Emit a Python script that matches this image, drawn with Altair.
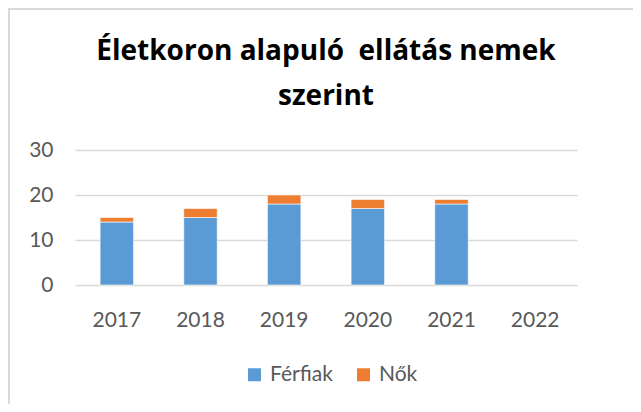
import altair as alt
import pandas as pd

years = ["2017", "2018", "2019", "2020", "2021", "2022"]
ferfiak = [14, 15, 18, 17, 18, None]
nok = [1, 2, 2, 2, 1, None]
series = ["Férfiak", "Nők"]
colors = ["#5B9BD5", "#ED7D31"]

rows = []
for y, f, n in zip(years, ferfiak, nok):
    if f is not None:
        rows.append({"year": y, "series": series[0], "value": f, "ord": 0})
    if n is not None:
        rows.append({"year": y, "series": series[1], "value": n, "ord": 1})
df = pd.DataFrame(rows)

FONT = "Lato"

bars = alt.Chart(df).mark_bar(stroke="white", strokeWidth=0.6).encode(
    x=alt.X("year:N", scale=alt.Scale(domain=years, paddingInner=0.6, paddingOuter=0.3),
            axis=alt.Axis(title=None, labelAngle=0, domain=False, ticks=False,
                          labelPadding=24, labelFontSize=21, labelColor="#595959",
                          labelFont=FONT, grid=False)),
    y=alt.Y("value:Q", stack="zero", scale=alt.Scale(domain=[0, 30], nice=False),
            axis=alt.Axis(title=None, values=[0, 10, 20, 30], domain=False, ticks=False,
                          labelPadding=22, labelFontSize=21, labelColor="#595959",
                          labelFont=FONT, gridColor="#D9D9D9", gridWidth=1.5)),
    color=alt.Color("series:N", scale=alt.Scale(domain=series, range=colors),
                    legend=alt.Legend(title=None, orient="none", legendX=169, legendY=214,
                                      direction="horizontal",
                                      symbolType="square", symbolSize=169, symbolStrokeWidth=0,
                                      labelFontSize=21, labelColor="#595959", labelFont=FONT,
                                      labelOffset=5, columnPadding=20, padding=0)),
    order=alt.Order("ord:Q"),
)

border = alt.Chart(pd.DataFrame({"a": [0]})).mark_rect(
    fill=None, stroke="#D9D9D9", strokeWidth=2
).encode(
    x=alt.value(-66), x2=alt.value(600), y=alt.value(-141), y2=alt.value(300)
)

chart = alt.layer(border, bars).properties(
    width=502,
    height=135,
    padding={"left": 67, "top": 142, "right": 56, "bottom": 119},
    autosize=alt.AutoSizeParams(type="none"),
    title=alt.Title(["Életkoron alapuló\u00a0 ellátás nemek", "szerint"], fontSize=28,
                    font="Open Sans", fontWeight="bold", color="#000000", anchor="middle",
                    lineHeight=45, offset=-103),
).configure_view(stroke=None)

chart.save("out.html", embed_options={"renderer": "svg", "actions": False})
